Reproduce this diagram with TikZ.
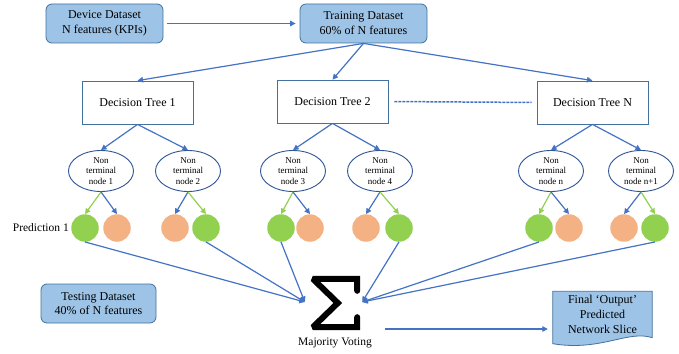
\documentclass[tikz,border=0pt]{standalone}
\usepackage{fontspec}
\setmainfont{Liberation Serif}
\usetikzlibrary{arrows.meta,shapes.geometric,calc}
\definecolor{boxfill}{HTML}{9DC3E6}
\definecolor{boxline}{HTML}{41719C}
\definecolor{arr}{HTML}{4472C4}
\definecolor{ell}{HTML}{2F5597}
\definecolor{grn}{HTML}{92D050}
\definecolor{org}{HTML}{F4B183}
\begin{document}
\begin{tikzpicture}[x=1pt,y=-1pt,
  databox/.style={draw=boxline, fill=boxfill, rounded corners=6pt, line width=0.8pt, minimum width=#1, minimum height=39pt, align=center, font=\fontsize{12}{15}\selectfont, inner sep=0pt},
  treebox/.style={draw=boxline, fill=white, line width=0.8pt, minimum width=111pt, minimum height=43pt, inner sep=0pt, font=\fontsize{12}{14}\selectfont},
  ntnode/.style={ellipse, draw=ell, fill=white, line width=0.9pt, minimum width=65pt, minimum height=41pt, inner sep=-4pt, align=center, font=\fontsize{9}{10.5}\selectfont},
  leafg/.style={circle, fill=grn, minimum size=27.5pt, inner sep=0pt},
  leafo/.style={circle, fill=org, minimum size=27.5pt, inner sep=0pt},
  tip/.style={-{Triangle[length=5.5pt,width=5.5pt]}},
  barr/.style={draw=arr, line width=1.2pt, tip},
  garr/.style={draw=grn, line width=1.2pt, tip},
  lbl/.style={inner sep=0pt, font=\fontsize{11.5}{13}\selectfont},
]
\useasboundingbox (0,0) rectangle (679,353);

% top boxes
\node[databox=117pt] (dev) at (104.5,23.5) {Device Dataset\\N features (KPIs)};
\node[databox=127pt] (train) at (363.5,23.5) {Training Dataset\\60\% of N features};
\draw[barr, shorten <=4pt, shorten >=4pt] (dev) -- (train);

% decision trees
\node[treebox] (dt1) at (137.5,102.5) {Decision Tree 1};
\node[treebox] (dt2) at (332.5,101.5) {Decision Tree 2};
\node[treebox] (dtn) at (592.5,102.5) {Decision Tree N};
\draw[barr] (train.south) -- (dt1.north);
\draw[barr] (train.south) -- (dt2.north);
\draw[barr] (train.south) -- (dtn.north);
\draw[draw=arr, line width=1.5pt, dash pattern=on 3pt off 1pt, shorten <=6pt, shorten >=5pt] (dt2.east) -- (dtn.west);

% non terminal nodes
\node[ntnode] (n1) at (101,171) {Non\\terminal\\node 1};
\node[ntnode] (n2) at (188,171) {Non\\terminal\\node 2};
\node[ntnode] (n3) at (293,171) {Non\\terminal\\node 3};
\node[ntnode] (n4) at (380,171) {Non\\terminal\\node 4};
\node[ntnode] (nn) at (551,171) {Non\\terminal\\node n};
\node[ntnode] (nm) at (641,171) {Non\\terminal\\node n+1};
\draw[barr] (dt1.south) -- (n1.north);
\draw[barr] (dt1.south) -- (n2.north);
\draw[barr] (dt2.south) -- (n3.north);
\draw[barr] (dt2.south) -- (n4.north);
\draw[barr] (dtn.south) -- (nn.north);
\draw[barr] (dtn.south) -- (nm.north);

% leaves
\node[leafg] (g1) at (85,228) {};
\node[leafo] (o1) at (117,228) {};
\node[leafo] (o2) at (175,228) {};
\node[leafg] (g2) at (206,228) {};
\node[leafg] (g3) at (281,228) {};
\node[leafo] (o3) at (310,228) {};
\node[leafo] (o4) at (366,228) {};
\node[leafg] (g4) at (399,228) {};
\node[leafg] (gn) at (539,228) {};
\node[leafo] (on) at (569,228) {};
\node[leafo] (om) at (624,228) {};
\node[leafg] (gm) at (655,228) {};
\draw[garr] (n1.south) -- (g1.north);
\draw[barr] (n1.south) -- (o1.north);
\draw[barr] (n2.south) -- (o2.north);
\draw[garr] (n2.south) -- (g2.north);
\draw[garr] (n3.south) -- (g3.north);
\draw[barr] (n3.south) -- (o3.north);
\draw[barr] (n4.south) -- (o4.north);
\draw[garr] (n4.south) -- (g4.north);
\draw[garr] (nn.south) -- (gn.north);
\draw[barr] (nn.south) -- (on.north);
\draw[barr] (nm.south) -- (om.north);
\draw[garr] (nm.south) -- (gm.north);

\node[lbl, anchor=east] (pred) at (69,228) {Prediction 1};

% sigma
\node[minimum width=50pt, minimum height=54pt, inner sep=0pt] (sig) at (335,303) {};
\draw[line width=6pt, line cap=round, line join=miter, miter limit=2]
  ($(sig.north east)+(-3,15)$) -- ($(sig.north east)+(-3,3)$) -- ($(sig.north west)+(3,3)$)
  -- ($(sig.west)+(28,0)$) -- ($(sig.south west)+(3,-3)$) -- ($(sig.south east)+(-3,-3)$)
  -- ($(sig.south east)+(-3,-13)$);
\node[lbl] (mv) at (335,343) {Majority Voting};
\coordinate (sigL) at ($(sig.west)+(-5,-1)$);
\coordinate (sigR) at ($(sig.east)+(2,-1)$);
\draw[barr] (g1.south) -- (sigL);
\draw[barr] (g2.south) -- (sigL);
\draw[barr] (g3.south) -- (sigL);
\draw[barr] (g4.south) -- (sigR);
\draw[barr] (gn.south) -- (sigR);
\draw[barr] (gm.south) -- (sigR);

% testing
\node[databox=115pt, font=\fontsize{12}{14}\selectfont] (test) at (98.5,303.5) {Testing Dataset\\40\% of N features};

% final output
\node[minimum width=99pt, minimum height=46pt, inner sep=0pt] (fin) at (602.5,314.5) {};
\filldraw[fill=boxfill, draw=boxline, line width=0.8pt]
  (fin.north west) -- (fin.north east) -- (fin.south east)
  .. controls ($(fin.south east)+(-24,-8)$) and ($(fin.south west)+(48,14)$) .. ($(fin.south west)+(0,6)$)
  -- cycle;
\node[align=center, inner sep=0pt, font=\fontsize{12}{15}\selectfont] (fintext) at (fin) {Final ‘Output’\\Predicted\\Network Slice};
\coordinate (mvo) at (385,329);
\coordinate (fini) at ($(fin.west)+(-5,14.5)$);
\draw[barr] (mvo) -- (fini);
\end{tikzpicture}
\end{document}
